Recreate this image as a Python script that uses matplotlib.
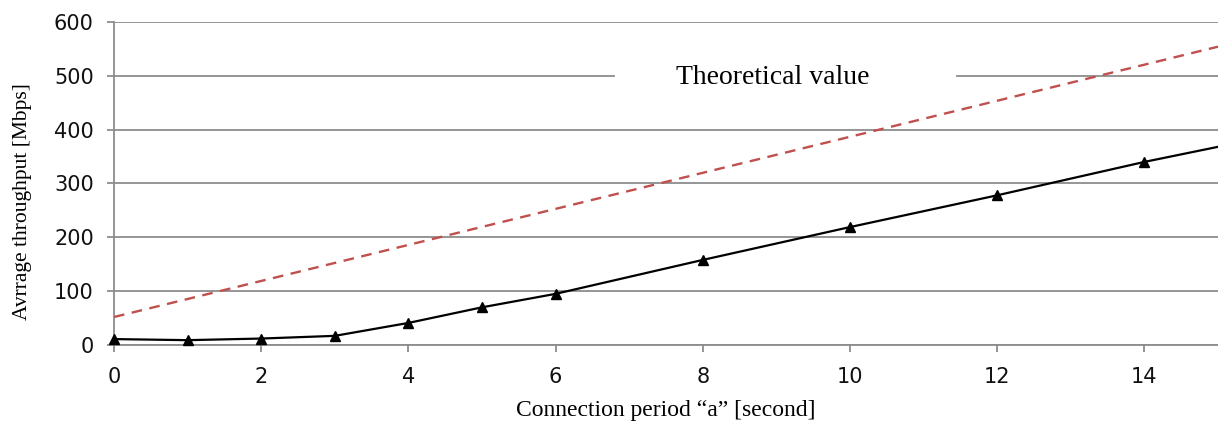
import matplotlib.pyplot as plt

# measured throughput (black, triangles)
period = [0, 1, 2, 3, 4, 5, 6, 8, 10, 12, 14, 15]
throughput = [11, 9, 12, 17, 41, 70, 95, 158, 219, 278, 340, 368]
marker_every = list(range(11))  # last point (x=15) has no marker

# theoretical value (red dashed)
theory_x = [0, 15]
theory_y = [52, 554]

x_ticks = [0, 2, 4, 6, 8, 10, 12, 14]
y_ticks = [0, 100, 200, 300, 400, 500, 600]

grey = '#8c8c8c'
serif = ['Liberation Serif', 'DejaVu Serif']

fig = plt.figure(figsize=(12.18, 4.21), dpi=100)
ax = fig.add_axes([0.0936, 0.1805, 0.9064, 0.7675])

ax.set_xlim(0, 15)
ax.set_ylim(0, 600)
ax.set_xticks(x_ticks)
ax.set_yticks(y_ticks)
ax.yaxis.grid(True, color=grey, lw=1.3)
ax.set_axisbelow(True)

for s in ['top', 'right']:
    ax.spines[s].set_visible(False)
for s in ['left', 'bottom']:
    ax.spines[s].set_color(grey)
    ax.spines[s].set_linewidth(1.3)
ax.tick_params(colors=grey, length=5, width=1.3, labelsize=15, labelcolor='#111111')
ax.tick_params(axis='x', pad=11)
ax.tick_params(axis='y', pad=9.5)

ax.plot(theory_x, theory_y, color='#c0504d', lw=1.7, ls=(0, (4.5, 3.2)), zorder=3)
ax.plot(period, throughput, color='black', lw=1.6, marker='^', ms=7,
        markevery=marker_every, zorder=4, clip_on=False)

# white gap in the 500 gridline behind the label
ax.plot([6.83, 11.41], [500, 500], color='white', lw=3, zorder=2)
ax.text(8.95, 497, 'Theoretical value', family=serif, fontsize=20,
        ha='center', va='center', zorder=5)

ax.set_xlabel('Connection period \u201ca\u201d [second]', family=serif, fontsize=17)
ax.set_ylabel('Avrrage throughput [Mbps]', family=serif, fontsize=15.5)
ax.xaxis.set_label_coords(0.5, -0.17)
ax.yaxis.set_label_coords(-0.074, 0.444)

fig.savefig('out.png', dpi=100)
